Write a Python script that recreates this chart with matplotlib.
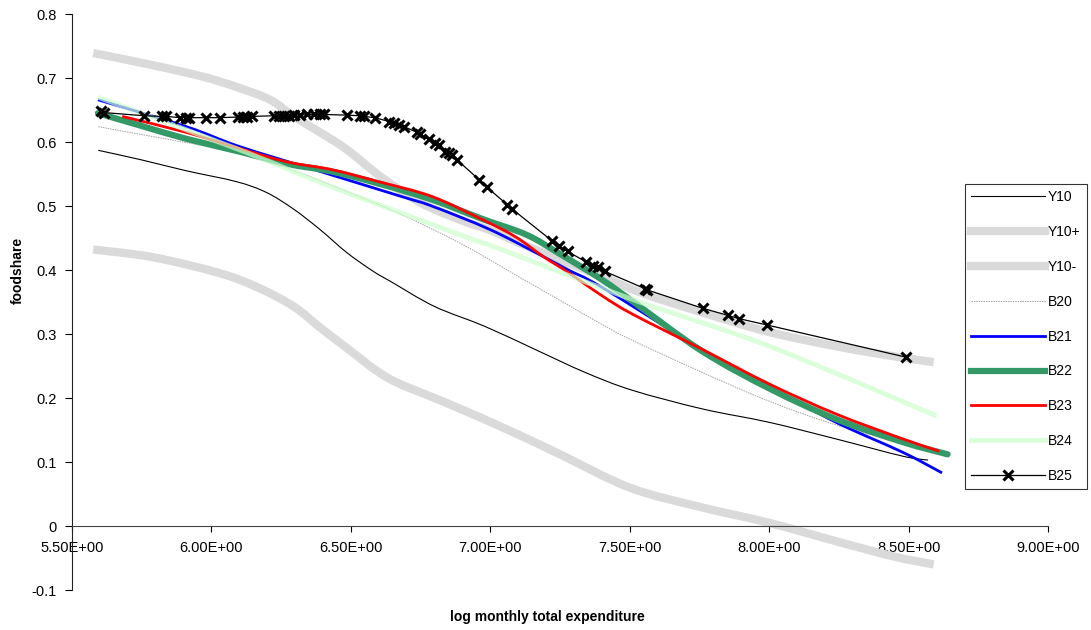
import matplotlib
matplotlib.use("Agg")
import matplotlib.pyplot as plt
from matplotlib.ticker import FixedLocator, FuncFormatter
from matplotlib.path import Path
from matplotlib.patches import PathPatch

plt.rcParams['font.family'] = ['Liberation Sans', 'DejaVu Sans']

# ---- data ----
y10_x = [5.594, 5.75, 5.91, 6.09, 6.198, 6.295, 6.39, 6.486, 6.58, 6.647, 6.80, 6.98, 7.16, 7.34, 7.51, 7.76, 8.0, 8.24, 8.48, 8.57]
y10_y = [0.587, 0.572, 0.555, 0.538, 0.521, 0.495, 0.463, 0.427, 0.398, 0.381, 0.343, 0.312, 0.276, 0.240, 0.212, 0.183, 0.162, 0.136, 0.109, 0.103]

y10p_x = [5.576, 5.79, 5.97, 6.09, 6.21, 6.295, 6.39, 6.486, 6.61, 6.75, 6.9, 7.0, 7.16, 7.4, 7.55, 7.75, 8.0, 8.25, 8.45, 8.59]
y10p_y = [0.739, 0.72, 0.702, 0.686, 0.666, 0.64, 0.615, 0.588, 0.545, 0.505, 0.477, 0.462, 0.432, 0.39, 0.363, 0.335, 0.303, 0.28, 0.265, 0.256]

y10m_x = [5.576, 5.79, 6.03, 6.17, 6.295, 6.39, 6.48, 6.63, 6.8, 6.92, 7.1, 7.25, 7.5, 7.75, 8.0, 8.25, 8.45, 8.59]
y10m_y = [0.432, 0.42, 0.395, 0.372, 0.343, 0.31, 0.28, 0.232, 0.2, 0.178, 0.143, 0.112, 0.06, 0.03, 0.005, -0.025, -0.048, -0.06]

b20_x = [5.594, 5.91, 6.1, 6.3, 6.5, 6.68, 6.9, 7.1, 7.28, 7.4, 7.51, 7.76, 8.0, 8.24, 8.52]
b20_y = [0.624, 0.599, 0.585, 0.555, 0.52, 0.487, 0.44, 0.39, 0.345, 0.315, 0.29, 0.24, 0.195, 0.158, 0.125]

b21_x = [5.593, 5.91, 6.1, 6.39, 6.68, 6.79, 7.0, 7.19, 7.28, 7.40, 7.76, 8.0, 8.24, 8.48, 8.62]
b21_y = [0.666, 0.624, 0.593, 0.554, 0.515, 0.5, 0.463, 0.421, 0.4, 0.373, 0.276, 0.218, 0.162, 0.115, 0.083]

b22_x = [5.593, 5.75, 5.91, 6.1, 6.27, 6.43, 6.6, 6.79, 6.97, 7.13, 7.25, 7.40, 7.52, 7.76, 8.0, 8.24, 8.48, 8.64]
b22_y = [0.645, 0.625, 0.605, 0.585, 0.566, 0.554, 0.535, 0.51, 0.48, 0.455, 0.425, 0.385, 0.348, 0.273, 0.215, 0.167, 0.131, 0.112]

b23_x = [5.68, 5.91, 6.1, 6.27, 6.43, 6.6, 6.79, 6.97, 7.09, 7.19, 7.28, 7.40, 7.51, 7.76, 8.0, 8.24, 8.48, 8.61]
b23_y = [0.64, 0.615, 0.59, 0.569, 0.557, 0.538, 0.515, 0.479, 0.452, 0.421, 0.396, 0.36, 0.331, 0.276, 0.222, 0.175, 0.136, 0.117]

b24_x = [5.593, 6.1, 6.43, 6.91, 7.04, 7.51, 8.0, 8.6]
b24_y = [0.67, 0.588, 0.53, 0.452, 0.432, 0.354, 0.281, 0.172]

b25_x = [5.605, 5.615, 5.759, 5.824, 5.838, 5.888, 5.910, 5.921, 5.982, 6.029, 6.097, 6.115, 6.126, 6.144,
         6.223, 6.241, 6.259, 6.277, 6.295, 6.317, 6.342, 6.367, 6.388, 6.403, 6.486, 6.532, 6.547, 6.586,
         6.637, 6.655, 6.673, 6.691, 6.737, 6.748, 6.781, 6.802, 6.817, 6.838, 6.853, 6.863, 6.881, 6.960,
         6.989, 7.061, 7.079, 7.223, 7.248, 7.277, 7.342, 7.367, 7.385, 7.410, 7.554, 7.562, 7.763, 7.853,
         7.892, 7.993, 8.489]
b25_y = [0.648, 0.646, 0.641, 0.640, 0.640, 0.638, 0.638, 0.638, 0.638, 0.638, 0.639, 0.639, 0.639, 0.640,
         0.641, 0.641, 0.641, 0.641, 0.642, 0.642, 0.643, 0.643, 0.643, 0.643, 0.642, 0.641, 0.640, 0.638,
         0.632, 0.630, 0.627, 0.624, 0.615, 0.612, 0.604, 0.599, 0.596, 0.585, 0.583, 0.580, 0.572, 0.541,
         0.529, 0.502, 0.495, 0.445, 0.437, 0.429, 0.413, 0.407, 0.404, 0.398, 0.371, 0.369, 0.340, 0.329,
         0.324, 0.314, 0.264]

x_ticks = [5.5, 6.0, 6.5, 7.0, 7.5, 8.0, 8.5, 9.0]
y_ticks = [-0.1, 0.0, 0.1, 0.2, 0.3, 0.4, 0.5, 0.6, 0.7, 0.8]


def smooth_path(xs, ys):
    """Excel-style smoothed line: cubic Bezier segments through the points."""
    pts = list(zip(xs, ys))
    verts = [pts[0]]
    codes = [Path.MOVETO]
    n = len(pts)
    for i in range(n - 1):
        p0 = pts[i - 1] if i > 0 else pts[i]
        p1 = pts[i]
        p2 = pts[i + 1]
        p3 = pts[i + 2] if i + 2 < n else pts[i + 1]
        c1 = (p1[0] + (p2[0] - p0[0]) / 6, p1[1] + (p2[1] - p0[1]) / 6)
        c2 = (p2[0] - (p3[0] - p1[0]) / 6, p2[1] - (p3[1] - p1[1]) / 6)
        verts += [c1, c2, p2]
        codes += [Path.CURVE4] * 3
    return Path(verts, codes)


# ---- figure ----
fig = plt.figure(figsize=(10.91, 6.30), dpi=100)
L, R = 72 / 1091, 1048 / 1091
B, T = 1 - 590 / 630, 1 - 14 / 630
ax = fig.add_axes([L, B, R - L, T - B])

band = '#dadada'
series = [
    (y10_x, y10_y, dict(color='black', lw=0.8), 'Y10'),
    (y10p_x, y10p_y, dict(color=band, lw=6, capstyle='butt'), 'Y10+'),
    (y10m_x, y10m_y, dict(color=band, lw=6, capstyle='butt'), 'Y10-'),
    (b20_x, b20_y, dict(color='#a0a0a0', lw=0.7, linestyle=(0, (1.5, 1))), 'B20'),
    (b21_x, b21_y, dict(color='#0000ff', lw=2), 'B21'),
    (b22_x, b22_y, dict(color='#339966', lw=4.5, capstyle='round'), 'B22'),
    (b23_x, b23_y, dict(color='#ff0000', lw=2), 'B23'),
    (b24_x, b24_y, dict(color='#ccffcc', lw=3.5, alpha=0.7), 'B24'),
]

handles = []
for z, (xs, ys, st, lab) in enumerate(series):
    patch = PathPatch(smooth_path(xs, ys), fill=False, zorder=2 + z * 0.1,
                      color=st['color'], lw=st['lw'],
                      linestyle=st.get('linestyle', '-'),
                      capstyle=st.get('capstyle', 'butt'),
                      alpha=st.get('alpha', 1.0))
    ax.add_patch(patch)
    h, = ax.plot([], [], color=st['color'], lw=min(st['lw'], 6),
                 linestyle=st.get('linestyle', '-'), alpha=st.get('alpha', 1.0), label=lab)
    handles.append(h)

h25, = ax.plot(b25_x, b25_y, color='black', lw=0.9, marker='x', ms=7.5, mew=2.2, mec='black',
               label='B25', zorder=4)
handles.append(h25)

ax.set_xlim(5.5, 9.0)
ax.set_ylim(-0.1, 0.8)

for s in ['top', 'right']:
    ax.spines[s].set_visible(False)
ax.spines['bottom'].set_position(('data', 0))
ax.spines['bottom'].set_color('#444444')
ax.spines['left'].set_color('#222222')

ax.xaxis.set_major_locator(FixedLocator(x_ticks))
ax.yaxis.set_major_locator(FixedLocator(y_ticks))
ax.xaxis.set_major_formatter(FuncFormatter(lambda v, p: f"{v:.2E}"))
ax.yaxis.set_major_formatter(FuncFormatter(lambda v, p: f"{round(v, 1):g}"))
ax.tick_params(axis='x', direction='out', length=4, pad=7, labelsize=10.5)
ax.tick_params(axis='y', direction='out', length=5, pad=6, labelsize=10.5)

fig.text(18 / 1091, 1 - 270 / 630, 'foodshare', rotation=90, ha='center', va='center',
         fontsize=10, fontweight='bold')
fig.text(547 / 1091, 1 - 617 / 630, 'log monthly total expenditure', ha='center', va='center',
         fontsize=10, fontweight='bold')

leg = fig.legend(handles=handles, loc='upper left', bbox_to_anchor=(965 / 1091, 1 - 184 / 630),
                 frameon=True, fancybox=False, edgecolor='black', fontsize=10,
                 handlelength=5.3, handletextpad=0.2, labelspacing=1.5,
                 borderpad=0.45, borderaxespad=0)
leg.get_frame().set_linewidth(0.8)

fig.savefig('out.png', dpi=100)
